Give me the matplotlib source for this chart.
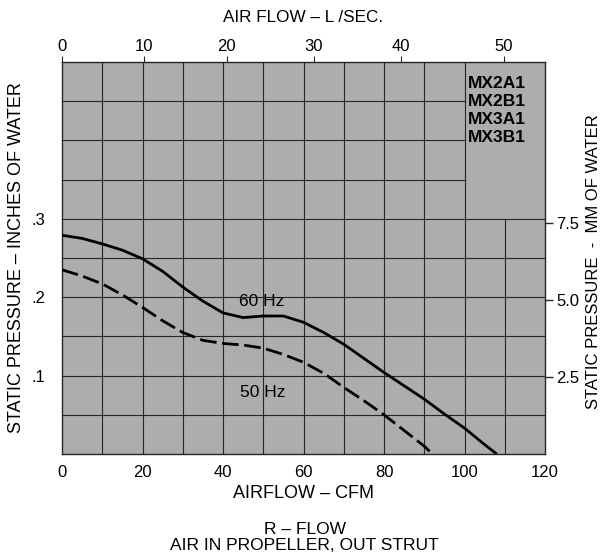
import matplotlib
matplotlib.use("Agg")
import matplotlib.pyplot as plt
import numpy as np

plt.rcParams['font.family'] = ['Liberation Sans', 'DejaVu Sans']

# ---- data ----
cfm_60 = [0, 5, 10, 15, 20, 25, 30, 35, 40, 45, 50, 55, 60, 65, 70, 75, 80, 85, 90, 95, 100, 105, 108]
inch_60 = [0.279, 0.275, 0.268, 0.260, 0.249, 0.233, 0.213, 0.195, 0.180, 0.174, 0.176, 0.176,
           0.168, 0.155, 0.140, 0.122, 0.104, 0.087, 0.070, 0.051, 0.033, 0.012, 0.0]
cfm_50 = [0, 5, 10, 15, 20, 25, 30, 35, 40, 45, 50, 55, 60, 65, 70, 75, 80, 85, 90, 92]
inch_50 = [0.235, 0.227, 0.217, 0.203, 0.187, 0.170, 0.155, 0.145, 0.141, 0.139, 0.135, 0.127,
           0.117, 0.103, 0.085, 0.068, 0.050, 0.030, 0.010, 0.0]

bottom_ticks = [0, 20, 40, 60, 80, 100, 120]
left_ticks = [0.1, 0.2, 0.3]
left_labels = ['.1', '.2', '.3']
right_ticks = [2.5, 5.0, 7.5]
right_labels = ['2.5', '5.0', '7.5']
top_tick_cfm = [0, 20.4, 40.9, 62.5, 84.3, 109.8]
top_labels = ['0', '10', '20', '30', '40', '50']
models = ['MX2A1', 'MX2B1', 'MX3A1', 'MX3B1']
MM_PER_INCH = 25.4

bg = '#adadad'
gridc = '#262626'

fig = plt.figure(figsize=(6.07, 5.58), dpi=100)
ax = fig.add_axes([62/607, 1-454/558, (545-62)/607, (454-62)/558])
ax.set_facecolor(bg)
ax.set_xlim(0, 120)
ax.set_ylim(0, 0.5)

# grid (box region 100-120 CFM, 0.3-0.5 in. left clear)
for x in np.arange(10, 120, 10):
    top = 0.3 if x > 100 else 0.5
    ax.plot([x, x], [0, top], color=gridc, lw=0.8, zorder=1)
for y in np.arange(0.05, 0.5, 0.05):
    right = 100 if y > 0.31 else 120
    ax.plot([0, right], [y, y], color=gridc, lw=0.8, zorder=1)

ax.plot(cfm_60, inch_60, color='black', lw=2.0, zorder=3, solid_capstyle='butt',
        solid_joinstyle='round')
ax.plot(cfm_50, inch_50, color='black', lw=2.0, zorder=3, dashes=(6, 2))

ax.text(49.7, 0.194, '60 Hz', fontsize=12.5, ha='center', va='center', zorder=4)
ax.text(49.9, 0.078, '50 Hz', fontsize=12.5, ha='center', va='center', zorder=4)

for i, m in enumerate(models):
    ax.text(100.9, 0.473 - i * 0.0233, m, fontsize=12.5, fontweight='bold',
            ha='left', va='center', zorder=4)

for s in ax.spines.values():
    s.set_color(gridc)
    s.set_linewidth(1.0)

ax.set_xticks(bottom_ticks)
ax.set_xticklabels([str(t) for t in bottom_ticks])
ax.set_yticks(left_ticks)
ax.set_yticklabels(left_labels)
ax.tick_params(axis='x', length=0, pad=8, labelsize=12)
ax.tick_params(axis='y', length=0, pad=12, labelsize=12)

sec_top = ax.secondary_xaxis('top')
sec_top.set_xticks(top_tick_cfm)
sec_top.set_xticklabels(top_labels)
sec_top.tick_params(length=4, width=0.8, pad=2, labelsize=12, color=gridc)
sec_top.spines['top'].set_visible(False)

sec_r = ax.secondary_yaxis('right', functions=(lambda v: v * MM_PER_INCH, lambda v: v / MM_PER_INCH))
sec_r.set_yticks(right_ticks)
sec_r.set_yticklabels(right_labels)
sec_r.tick_params(length=6, width=1.0, pad=2, labelsize=12, color=gridc)
sec_r.spines['right'].set_visible(False)

fig.text(0.5, 1-18/558, 'AIR FLOW \u2013 L /SEC.', ha='center', va='center', fontsize=12.3)
fig.text(0.5, 1-493/558, 'AIRFLOW \u2013 CFM', ha='center', va='center', fontsize=13)
fig.text(0.502, 1-530/558, 'R \u2013 FLOW', ha='center', va='center', fontsize=12.5)
fig.text(0.502, 1-546/558, 'AIR IN PROPELLER, OUT STRUT', ha='center', va='center', fontsize=12.5)
fig.text(17/607, 1-258/558, 'STATIC PRESSURE \u2013 INCHES OF WATER', rotation=90,
         ha='center', va='center', fontsize=13)
fig.text(594/607, 1-262/558, 'STATIC PRESSURE  -  MM OF WATER', rotation=90,
         ha='center', va='center', fontsize=12)

fig.savefig('out.png', dpi=100)
